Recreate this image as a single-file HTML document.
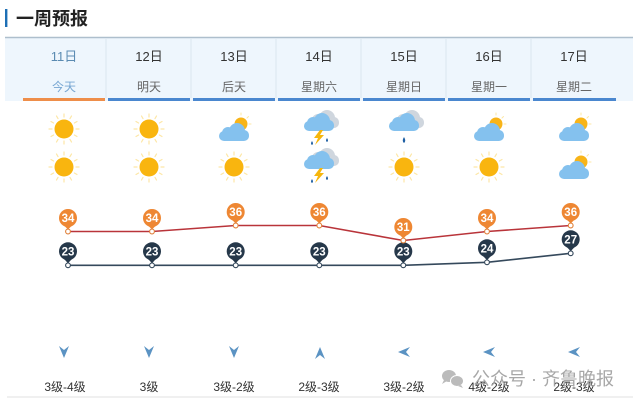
<!DOCTYPE html>
<html><head><meta charset="utf-8"><style>
html,body{margin:0;padding:0;background:#fff;width:640px;height:405px;overflow:hidden}
svg{display:block}
text{font-family:"Liberation Sans","Noto Sans CJK SC",sans-serif}
</style></head><body>
<svg width="640" height="405" viewBox="0 0 640 405" xmlns="http://www.w3.org/2000/svg">
<defs>
  <g id="sun">
    <g stroke="#fde7a6" stroke-width="1.2" stroke-linecap="round">
      <line x1="0" y1="-12" x2="0" y2="-15"/><line x1="0" y1="12" x2="0" y2="15"/>
      <line x1="-12" y1="0" x2="-15" y2="0"/><line x1="12" y1="0" x2="15" y2="0"/>
      <line x1="6" y1="-10.4" x2="7.5" y2="-13"/><line x1="-6" y1="-10.4" x2="-7.5" y2="-13"/>
      <line x1="6" y1="10.4" x2="7.5" y2="13"/><line x1="-6" y1="10.4" x2="-7.5" y2="13"/>
      <line x1="10.4" y1="-6" x2="13" y2="-7.5"/><line x1="-10.4" y1="-6" x2="-13" y2="-7.5"/>
      <line x1="10.4" y1="6" x2="13" y2="7.5"/><line x1="-10.4" y1="6" x2="-13" y2="7.5"/>
    </g>
    <circle cx="0" cy="0" r="9.5" fill="#f9b50f"/>
  </g>
  <g id="cloud">
    <rect x="-15" y="-1" width="30" height="10" rx="5"/>
    <circle cx="-6" cy="1" r="6"/>
    <circle cx="3" cy="-1" r="8"/>
    <circle cx="10" cy="3" r="5"/>
  </g>
  <g id="pcloud">
    <g stroke="#fde7a6" stroke-width="1" stroke-linecap="round">
      <line x1="7" y1="-14" x2="7" y2="-16"/><line x1="15" y1="-5" x2="17" y2="-5"/>
      <line x1="13" y1="-11" x2="14.5" y2="-12.5"/>
    </g>
    <circle cx="7" cy="-5" r="6.5" fill="#f8b418"/>
    <use href="#cloud" x="0" y="3" fill="#84c1ee"/>
  </g>
  <g id="storm">
    <use href="#cloud" x="5" y="-10" fill="#cfd6de"/>
    <use href="#cloud" x="0" y="-7" fill="#84c1ee"/>
    <polygon points="1,1 -5,9 -1,9 -4,16 5,6 1,6 4,1" fill="#f6b60c"/>
    <path d="M-7,12 q-2,3 0,4 q2,-1 0,-4z" fill="#1f5fa3"/>
    <path d="M8,9 q-2,3 0,4 q2,-1 0,-4z" fill="#1f5fa3"/>
  </g>
  <g id="rain">
    <use href="#cloud" x="5" y="-10" fill="#cfd6de"/>
    <use href="#cloud" x="0" y="-7" fill="#84c1ee"/>
    <path d="M0,8 q-2.5,4 0,6 q2.5,-2 0,-6z" fill="#1f5fa3"/>
  </g>
</defs>

<!-- title -->
<rect x="5" y="9" width="2.4" height="18" fill="#1d6fb5"/>
<text x="16" y="25" font-size="18" font-weight="bold" fill="#222">一周预报</text>

<!-- header -->
<rect x="5" y="38" width="628" height="63" fill="#eef6fd"/>
<line x1="5" y1="37.5" x2="633" y2="37.5" stroke="#aebfcd" stroke-width="1.5"/>
<g stroke="#dbe6ef" stroke-width="1">
  <line x1="106" y1="39" x2="106" y2="98"/><line x1="191" y1="39" x2="191" y2="98"/>
  <line x1="276" y1="39" x2="276" y2="98"/><line x1="361" y1="39" x2="361" y2="98"/>
  <line x1="446" y1="39" x2="446" y2="98"/><line x1="531" y1="39" x2="531" y2="98"/>
</g>
<rect x="23" y="98" width="82" height="3" fill="#ee8e4a"/>
<rect x="108" y="98" width="82" height="3" fill="#4a87cf"/>
<rect x="193" y="98" width="82" height="3" fill="#4a87cf"/>
<rect x="278" y="98" width="82" height="3" fill="#4a87cf"/>
<rect x="363" y="98" width="82" height="3" fill="#4a87cf"/>
<rect x="448" y="98" width="82" height="3" fill="#4a87cf"/>
<rect x="533" y="98" width="83" height="3" fill="#4a87cf"/>

<g font-size="13" text-anchor="middle" fill="#333">
  <text x="64" y="61" fill="#5a8bb2">11日</text>
  <text x="149" y="61">12日</text>
  <text x="234" y="61">13日</text>
  <text x="319" y="61">14日</text>
  <text x="404" y="61">15日</text>
  <text x="489" y="61">16日</text>
  <text x="574" y="61">17日</text>
</g>
<g font-size="12" text-anchor="middle" fill="#666">
  <text x="64" y="91" fill="#77a6d2">今天</text>
  <text x="149" y="91">明天</text>
  <text x="234" y="91">后天</text>
  <text x="319" y="91">星期六</text>
  <text x="404" y="91">星期日</text>
  <text x="489" y="91">星期一</text>
  <text x="574" y="91">星期二</text>
</g>

<!-- weather icons row 1 -->
<use href="#sun" x="64" y="129"/>
<use href="#sun" x="149" y="129"/>
<use href="#pcloud" x="234" y="129"/>
<use href="#storm" x="319" y="129"/>
<use href="#rain" x="404" y="129"/>
<use href="#pcloud" x="489" y="129"/>
<use href="#pcloud" x="574" y="129"/>
<!-- row 2 -->
<use href="#sun" x="64" y="167"/>
<use href="#sun" x="149" y="167"/>
<use href="#sun" x="234" y="167"/>
<use href="#storm" x="319" y="167"/>
<use href="#sun" x="404" y="167"/>
<use href="#sun" x="489" y="167"/>
<use href="#pcloud" x="574" y="167"/>

<!-- temperature lines -->
<polyline points="68,231.5 152,231.5 235.7,225.5 319.3,225.5 403.3,240.5 487,231.5 570.7,225.5" fill="none" stroke="#b9343a" stroke-width="1.6"/>
<polyline points="68,265.3 152,265.3 235.7,265.3 319.3,265.3 403.3,265.3 487,262.3 570.7,253.3" fill="none" stroke="#35495c" stroke-width="1.6"/>

<!-- high pins -->
<g fill="#ee8733">
  <g transform="translate(68,231.5)"><circle cx="0" cy="-13.5" r="9"/><polygon points="-6,-8 6,-8 0,-2"/></g>
  <g transform="translate(152,231.5)"><circle cx="0" cy="-13.5" r="9"/><polygon points="-6,-8 6,-8 0,-2"/></g>
  <g transform="translate(235.7,225.5)"><circle cx="0" cy="-13.5" r="9"/><polygon points="-6,-8 6,-8 0,-2"/></g>
  <g transform="translate(319.3,225.5)"><circle cx="0" cy="-13.5" r="9"/><polygon points="-6,-8 6,-8 0,-2"/></g>
  <g transform="translate(403.3,240.5)"><circle cx="0" cy="-13.5" r="9"/><polygon points="-6,-8 6,-8 0,-2"/></g>
  <g transform="translate(487,231.5)"><circle cx="0" cy="-13.5" r="9"/><polygon points="-6,-8 6,-8 0,-2"/></g>
  <g transform="translate(570.7,225.5)"><circle cx="0" cy="-13.5" r="9"/><polygon points="-6,-8 6,-8 0,-2"/></g>
</g>
<g fill="#26384a">
  <g transform="translate(68,265.3)"><circle cx="0" cy="-14" r="9"/><polygon points="-6,-8.5 6,-8.5 0,-2"/></g>
  <g transform="translate(152,265.3)"><circle cx="0" cy="-14" r="9"/><polygon points="-6,-8.5 6,-8.5 0,-2"/></g>
  <g transform="translate(235.7,265.3)"><circle cx="0" cy="-14" r="9"/><polygon points="-6,-8.5 6,-8.5 0,-2"/></g>
  <g transform="translate(319.3,265.3)"><circle cx="0" cy="-14" r="9"/><polygon points="-6,-8.5 6,-8.5 0,-2"/></g>
  <g transform="translate(403.3,265.3)"><circle cx="0" cy="-14" r="9"/><polygon points="-6,-8.5 6,-8.5 0,-2"/></g>
  <g transform="translate(487,262.3)"><circle cx="0" cy="-14" r="9"/><polygon points="-6,-8.5 6,-8.5 0,-2"/></g>
  <g transform="translate(570.7,253.3)"><circle cx="0" cy="-14" r="9"/><polygon points="-6,-8.5 6,-8.5 0,-2"/></g>
</g>
<g font-size="11.5" font-weight="bold" fill="#fff" text-anchor="middle">
  <text x="68" y="222">34</text><text x="152" y="222">34</text><text x="235.7" y="216">36</text>
  <text x="319.3" y="216">36</text><text x="403.3" y="231">31</text><text x="487" y="222">34</text>
  <text x="570.7" y="216">36</text>
  <text x="68" y="255.3">23</text><text x="152" y="255.3">23</text><text x="235.7" y="255.3">23</text>
  <text x="319.3" y="255.3">23</text><text x="403.3" y="255.3">23</text><text x="487" y="252.3">24</text>
  <text x="570.7" y="243.3">27</text>
</g>
<!-- dots -->
<g fill="#fff" stroke="#e0803a" stroke-width="1.1">
  <circle cx="68" cy="231.5" r="2.4"/><circle cx="152" cy="231.5" r="2.4"/><circle cx="235.7" cy="225.5" r="2.4"/>
  <circle cx="319.3" cy="225.5" r="2.4"/><circle cx="403.3" cy="240.5" r="2.4"/><circle cx="487" cy="231.5" r="2.4"/>
  <circle cx="570.7" cy="225.5" r="2.4"/>
</g>
<g fill="#fff" stroke="#35495c" stroke-width="1.1">
  <circle cx="68" cy="265.3" r="2.4"/><circle cx="152" cy="265.3" r="2.4"/><circle cx="235.7" cy="265.3" r="2.4"/>
  <circle cx="319.3" cy="265.3" r="2.4"/><circle cx="403.3" cy="265.3" r="2.4"/><circle cx="487" cy="262.3" r="2.4"/>
  <circle cx="570.7" cy="253.3" r="2.4"/>
</g>

<!-- wind arrows -->
<g fill="#5b93c3">
  <polygon points="59,346 64,350 69,346 64,358"/>
  <polygon points="144,346 149,350 154,346 149,358"/>
  <polygon points="229,346 234,350 239,346 234,358"/>
  <polygon points="320,347 325,359 320,355 315,359"/>
  <polygon points="398,352 410,347 406,352 410,357"/>
  <polygon points="483,352 495,347 491,352 495,357"/>
  <polygon points="568,352 580,347 576,352 580,357"/>
</g>
<g font-size="12" text-anchor="middle" fill="#333">
  <text x="65" y="391">3级-4级</text>
  <text x="149" y="391">3级</text>
  <text x="234" y="391">3级-2级</text>
  <text x="319" y="391">2级-3级</text>
  <text x="404" y="391">3级-2级</text>
  <text x="489" y="391">4级-2级</text>
  <text x="574" y="391">2级-3级</text>
</g>
<line x1="7" y1="397" x2="633" y2="397" stroke="#e0e0e0" stroke-width="1"/>

<!-- watermark -->
<g fill="#b4b4b4" opacity="0.9">
  <ellipse cx="449" cy="376" rx="7" ry="6"/>
  <polygon points="444,380 442,384 447,381"/>
  <ellipse cx="457" cy="381" rx="6.5" ry="5.5" stroke="#fff" stroke-width="1"/>
  <polygon points="461,385 463,388 458,386"/>
</g>
<text x="472" y="385" font-size="18" fill="#9e9e9e" opacity="0.9">公众号 · 齐鲁晚报</text>
</svg>
</body></html>
